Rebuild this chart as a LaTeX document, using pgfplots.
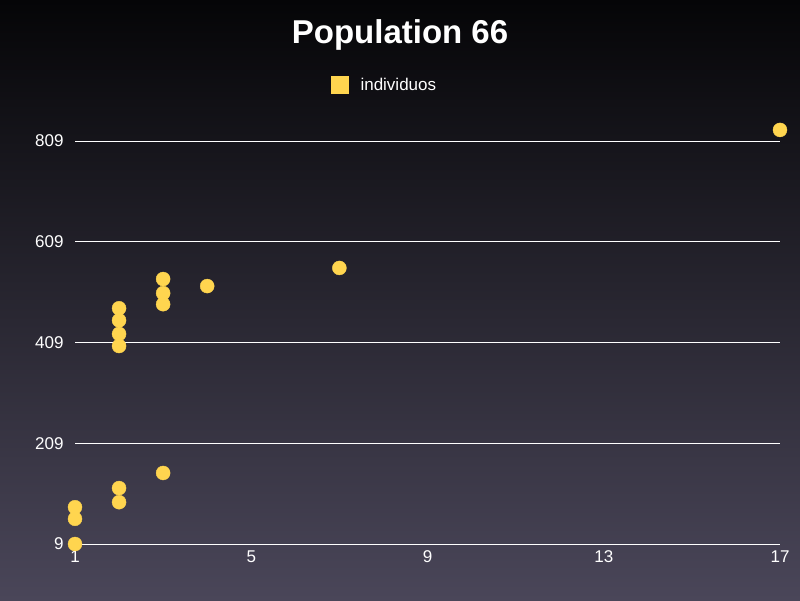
\documentclass[border=0pt]{standalone}
\usepackage{pgfplots}
\pgfplotsset{compat=1.18}
\usepackage{fontspec}
\setmainfont{Liberation Sans}
\definecolor{dotc}{HTML}{FFD54F}
\definecolor{bgtop}{HTML}{050507}
\definecolor{bgbot}{HTML}{4A4659}
\begin{document}
\begin{tikzpicture}[x=1pt,y=1pt]
\shade[top color=bgtop,bottom color=bgbot] (0,0) rectangle (800,600);
\node[font=\bfseries\fontsize{33}{38}\selectfont,white] at (400,565) {Population 66};
\fill[dotc] (331,506) rectangle (349,524);
\node[anchor=west,white,font=\fontsize{17}{20}\selectfont] at (357,516) {individuos};
\begin{axis}[at={(75pt,56pt)},anchor=origin,scale only axis,width=705pt,height=403pt,
  xmin=1,xmax=17,ymin=9,ymax=809,clip=false,axis line style={draw=none},
  xtick={1,5,9,13,17},ytick={9,209,409,609,809},
  ymajorgrids,grid style={white,line width=0.6pt},
  major tick length=0pt,
  ticklabel style={white,font=\fontsize{17}{20}\selectfont},
  /pgf/number format/assume math mode=true,
  yticklabel style={xshift=-8pt},xticklabel style={yshift=-3pt}]
\addplot[only marks,mark=*,mark size=7pt,color=dotc] coordinates {
(1,9)(1,59)(1,82)(2,92)(2,120)(2,402)(2,426)(2,453)(2,477)
(3,150)(3,485)(3,507)(3,535)(4,521)(7,557)(17,831)};
\end{axis}
\end{tikzpicture}
\end{document}
